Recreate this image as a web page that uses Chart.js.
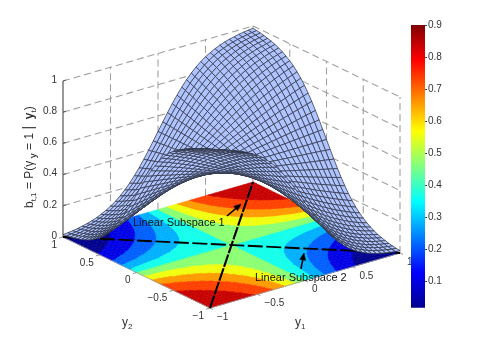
<!DOCTYPE html>
<html>
<head>
<meta charset="utf-8">
<title>Belief surface</title>
<script src="https://cdn.jsdelivr.net/npm/chart.js@4"></script>
<style>
  body { margin: 0; background: #fff; }
  canvas { position: absolute; }
</style>
</head>
<body>
<canvas id="surfaceChart" width="482" height="347" style="left:0;top:0"></canvas>
<canvas id="barChart" width="39" height="303" style="left:411px;top:15px"></canvas>
<script>
// Mesh coordinates, same for y1 and y2
const gridY = [-1,-0.95,-0.9,-0.85,-0.8,-0.75,-0.7,-0.65,-0.6,-0.55,-0.5,-0.45,-0.4,-0.35,-0.3,-0.25,-0.2,-0.15,-0.1,-0.05,0,
  0.05,0.1,0.15,0.2,0.25,0.3,0.35,0.4,0.45,0.5,0.55,0.6,0.65,0.7,0.75,0.8,0.85,0.9,0.95,1];

// Height of the surface in thousandths. Row = y1 from 0 to 1, column = y2 from -1 to 1
const upperRows = [
[500,500,500,500,500,500,500,500,500,500,500,500,500,500,500,500,500,500,500,500,500,500,500,500,500,500,500,500,500,500,500,500,500,500,500,500,500,500,500,500,500],
[448,450,453,456,458,461,463,466,469,471,474,476,479,482,484,487,490,492,495,497,500,503,505,508,510,513,516,518,521,524,526,529,531,534,537,539,542,544,547,550,552],
[397,402,407,412,417,422,427,432,437,443,448,453,458,463,469,474,479,484,490,495,500,505,510,516,521,526,531,537,542,547,552,557,563,568,573,578,583,588,593,598,603],
[348,355,362,369,377,384,392,399,407,414,422,430,437,445,453,461,469,476,484,492,500,508,516,524,531,539,547,555,563,570,578,586,593,601,608,616,623,631,638,645,652],
[302,311,320,329,338,348,357,367,377,387,397,407,417,427,437,448,458,469,479,490,500,510,521,531,542,552,563,573,583,593,603,613,623,633,643,652,662,671,680,689,698],
[260,270,280,291,302,313,324,336,348,360,372,384,397,409,422,435,448,461,474,487,500,513,526,539,552,565,578,591,603,616,628,640,652,664,676,687,698,709,720,730,740],
[221,232,243,255,268,280,293,306,320,334,348,362,377,392,407,422,437,453,469,484,500,516,531,547,563,578,593,608,623,638,652,666,680,694,707,720,732,745,757,768,779],
[187,199,210,223,236,249,264,278,293,309,324,341,357,374,392,409,427,445,463,482,500,518,537,555,573,591,608,626,643,659,676,691,707,722,736,751,764,777,790,801,813],
[157,169,181,194,207,221,236,251,268,284,302,320,338,357,377,397,417,437,458,479,500,521,542,563,583,603,623,643,662,680,698,716,732,749,764,779,793,806,819,831,843],
[131,143,154,168,181,195,210,227,243,262,280,300,320,341,362,384,407,430,453,476,500,524,547,570,593,616,638,659,680,700,720,738,757,773,790,805,819,832,846,857,869],
[109,120,131,144,157,172,187,204,221,240,260,280,302,324,348,372,397,422,448,474,500,526,552,578,603,628,652,676,698,720,740,760,779,796,813,828,843,856,869,880,891],
[91,100,111,123,136,151,166,182,200,219,240,262,284,309,334,360,387,414,443,471,500,529,557,586,613,640,666,691,716,738,760,781,800,818,834,849,864,877,889,900,909],
[75,84,94,105,118,131,147,163,181,200,221,243,268,293,320,348,377,407,437,469,500,531,563,593,623,652,680,707,732,757,779,800,819,837,853,869,882,895,906,916,925],
[61,70,79,90,101,114,129,145,163,182,204,227,251,278,306,336,367,399,432,466,500,534,568,601,633,664,694,722,749,773,796,818,837,855,871,886,899,910,921,930,939],
[50,58,66,76,87,99,113,129,147,166,187,210,236,264,293,324,357,392,427,463,500,537,573,608,643,676,707,736,764,790,813,834,853,871,887,901,913,924,934,942,950],
[41,48,56,64,75,86,99,114,131,151,172,195,221,249,280,313,348,384,422,461,500,539,578,616,652,687,720,751,779,805,828,849,869,886,901,914,925,936,944,952,959],
[34,40,46,54,64,75,87,101,118,136,157,181,207,236,268,302,338,377,417,458,500,542,583,623,662,698,732,764,793,819,843,864,882,899,913,925,936,946,954,960,966],
[27,33,39,46,54,64,76,90,105,123,144,168,194,223,255,291,329,369,412,456,500,544,588,631,671,709,745,777,806,832,856,877,895,910,924,936,946,954,961,967,973],
[22,27,32,39,46,56,66,79,94,111,131,154,181,210,243,280,320,362,407,453,500,547,593,638,680,720,757,790,819,846,869,889,906,921,934,944,954,961,968,973,978],
[18,22,27,33,40,48,58,70,84,100,120,143,169,199,232,270,311,355,402,450,500,550,598,645,689,730,768,801,831,857,880,900,916,930,942,952,960,967,973,978,982],
[15,18,22,27,34,41,50,61,75,91,109,131,157,187,221,260,302,348,397,448,500,552,603,652,698,740,779,813,843,869,891,909,925,939,950,959,966,973,978,982,985]
];
// The picture repeats itself through the centre, so the y1 < 0 half is the same rows turned round
const surfaceRows = upperRows.slice(1).reverse().map(r => [...r].reverse()).concat(upperRows);

const contourLevels = [100, 200, 300, 400, 500, 600, 700, 800, 900];
const bandColors = ['#00008f', '#0000e6', '#0060ff', '#00b0ff', '#14ffeb', '#8cff73', '#f0ff0f', '#ff9b00', '#ff4100', '#c80000'];

const y1Ticks = [-1, -0.5, 0, 0.5, 1];
const y2Ticks = [1, 0.5, 0, -0.5, -1];
const zTicks = [0, 0.2, 0.4, 0.6, 0.8, 1];
const barTicks = [0.1, 0.2, 0.3, 0.4, 0.5, 0.6, 0.7, 0.8, 0.9];
const barRange = [0.019, 0.9];

const jetStops = [[0, '#00008f'], [0.125, '#0000ff'], [0.375, '#00ffff'], [0.625, '#ffff00'], [0.875, '#ff0000'], [1, '#800000']];

// Floor position of the view, found by measuring the corners of the box
function project(y1, y2, z) {
    return { x: 231.5 + 95 * y1 - 73.5 * y2, y: 245 - 27.5 * y1 - 35.5 * y2 - 156 * z };
}

const fmt = v => String(v).replace('-', '\u2212');
const datasets = [];

function addLine(points, color, width, dash) {
    datasets.push({
        data: points, showLine: true, fill: false, tension: 0, pointRadius: 0,
        borderColor: color, borderWidth: width, borderDash: dash || [], clip: false
    });
}

function addShape(points, fillColor, lineColor, width) {
    datasets.push({
        data: points.concat([points[0]]), showLine: true, fill: 'shape', tension: 0, pointRadius: 0,
        backgroundColor: fillColor, borderColor: lineColor, borderWidth: width, clip: false
    });
}

// Back walls
const wallColor = '#a0a0a0';
const wallDash = [7, 4];
zTicks.forEach(z => {
    if (z > 0) {
        addLine([project(-1, 1, z), project(1, 1, z)], wallColor, 1.1, wallDash);
        addLine([project(1, 1, z), project(1, -1, z)], wallColor, 1.1, wallDash);
    }
});
[-0.5, 0, 0.5].forEach(t => {
    addLine([project(t, 1, 0), project(t, 1, 1)], wallColor, 1.1, wallDash);
    addLine([project(1, t, 0), project(1, t, 1)], wallColor, 1.1, wallDash);
});
addLine([project(1, 1, 0), project(1, 1, 1)], wallColor, 1.1, wallDash);
addLine([project(1, -1, 0), project(1, -1, 1)], wallColor, 1.1, wallDash);

// Cut one mesh cell to the part above (sign 1) or below (sign -1) a level
function clipLevel(poly, level, sign) {
    const out = [];
    poly.forEach((p, i) => {
        const q = poly[(i + 1) % poly.length];
        const pIn = sign * (p.v - level) >= 0;
        const qIn = sign * (q.v - level) >= 0;
        if (pIn) out.push(p);
        if (pIn !== qIn) {
            const t = (level - p.v) / (q.v - p.v);
            out.push({ a: p.a + t * (q.a - p.a), b: p.b + t * (q.b - p.b), v: level });
        }
    });
    return out;
}

// Filled contours on the floor
for (let i = 0; i < gridY.length - 1; i++) {
    for (let j = 0; j < gridY.length - 1; j++) {
        const cell = [[i, j], [i + 1, j], [i + 1, j + 1], [i, j + 1]].map(([r, c]) => ({ a: gridY[r], b: gridY[c], v: surfaceRows[r][c] }));
        bandColors.forEach((color, k) => {
            let poly = cell;
            if (k > 0) poly = clipLevel(poly, contourLevels[k - 1], 1);
            if (k < contourLevels.length && poly.length) poly = clipLevel(poly, contourLevels[k], -1);
            if (poly.length > 2) addShape(poly.map(p => project(p.a, p.b, 0)), color, color, 0.6);
        });
    }
}

// Axis lines and ticks
const axisColor = '#555555';
addLine([project(-1, 1, 0), project(-1, -1, 0), project(1, -1, 0)], '#999999', 0.8);
addLine([project(-1, 1, 0), project(-1, 1, 1)], axisColor, 1.2);
zTicks.forEach(z => {
    const p = project(-1, 1, z);
    addLine([p, { x: p.x + 3, y: p.y - 1 }], axisColor, 1);
});
y1Ticks.forEach(t => addLine([project(t, -1, 0), project(t, -1.04, 0)], '#777777', 0.8));
y2Ticks.forEach(t => addLine([project(-1, t, 0), project(-1.04, t, 0)], '#777777', 0.8));

// The two subspaces on the floor
addLine([project(-1, -1, 0), project(1, 1, 0)], '#000000', 2.1, [13, 1.5]);
addLine([project(-1, 1, 0), project(1, -1, 0)], '#000000', 1.9, [15, 3.5]);

// Surface, far cells first so near cells paint over them
const faceColor = '#b0c4ff';
const meshColor = '#2f3548';
for (let i = gridY.length - 2; i >= 0; i--) {
    for (let j = gridY.length - 2; j >= 0; j--) {
        const quad = [[i, j], [i + 1, j], [i + 1, j + 1], [i, j + 1]].map(([r, c]) => project(gridY[r], gridY[c], surfaceRows[r][c] / 1000));
        addShape(quad, faceColor, meshColor, 0.75);
    }
}

// Arrows next to the notes, in picture position
const noteArrows = [[227, 216, 241, 204], [301, 269, 304, 253]];
noteArrows.forEach(([x0, y0, x1, y1]) => {
    const len = Math.hypot(x1 - x0, y1 - y0), ux = (x1 - x0) / len, uy = (y1 - y0) / len;
    addLine([{ x: x0, y: y0 }, { x: x1 - ux * 4, y: y1 - uy * 4 }], '#000000', 1.5);
    addShape([{ x: x1, y: y1 },
        { x: x1 - ux * 7 - uy * 3, y: y1 - uy * 7 + ux * 3 },
        { x: x1 - ux * 7 + uy * 3, y: y1 - uy * 7 - ux * 3 }], '#000000', '#000000', 0.5);
});

// Chart.js paints the first dataset last, the list above is back to front
datasets.reverse();

const textColor = '#333333';
const mainFont = '"Liberation Sans", Arial, sans-serif';

function runs(ctx, parts, x, y) {
    parts.forEach(([text, size, shift, bold]) => {
        ctx.font = (bold ? 'bold ' : '') + size + 'px ' + mainFont;
        ctx.fillText(text, x, y + shift);
        x += ctx.measureText(text).width;
    });
}

const labelPlugin = {
    id: 'labelPlugin',
    afterDraw(chart) {
        const { ctx, scales: { x: sx, y: sy } } = chart;
        const px = p => ({ x: sx.getPixelForValue(p.x), y: sy.getPixelForValue(p.y) });
        ctx.save();
        ctx.fillStyle = textColor;
        ctx.font = '10px ' + mainFont;
        ctx.textBaseline = 'middle';

        ctx.textAlign = 'right';
        zTicks.forEach(z => {
            const p = px(project(-1, 1, z));
            ctx.fillText(fmt(z), p.x - 6, p.y - 1);
        });
        y2Ticks.forEach(t => {
            const p = px(project(-1, t, 0));
            ctx.fillText(fmt(t), p.x - 6, p.y + 8);
        });
        ctx.textAlign = 'left';
        y1Ticks.forEach(t => {
            const p = px(project(t, -1, 0));
            ctx.fillText(fmt(t), p.x + 7, p.y + 9);
        });

        ctx.textBaseline = 'alphabetic';
        runs(ctx, [['y', 12, 0], ['2', 8, 3]], 122, 326);
        runs(ctx, [['y', 12, 0], ['1', 8, 3]], 295, 326);

        ctx.fillStyle = '#111111';
        ctx.font = '11px ' + mainFont;
        ctx.fillText('Linear Subspace 1', 133, 226);
        ctx.fillText('Linear Subspace 2', 255, 281);

        ctx.fillStyle = textColor;
        ctx.translate(33, 208);
        ctx.rotate(-Math.PI / 2);
        runs(ctx, [['b', 12, 0], ['t,1', 8, 3], [' = P(\u03b3', 12, 0], [' y', 9, 3, true], [' = 1 ', 12, 0], ['|', 14, 0], ['  ', 12, 0], ['y', 12, 0, true], ['t', 8, 3], [')', 12, 0]], 0, 0);
        ctx.restore();
    }
};

new Chart(document.getElementById('surfaceChart'), {
    type: 'scatter',
    data: { datasets },
    options: {
        responsive: false,
        animation: false,
        events: [],
        layout: { padding: 0 },
        plugins: { legend: { display: false }, tooltip: { enabled: false }, filler: { drawTime: 'beforeDatasetDraw' } },
        scales: {
            x: { type: 'linear', min: 0, max: 482, display: false },
            y: { type: 'linear', min: 0, max: 347, reverse: true, display: false }
        }
    },
    plugins: [labelPlugin]
});

// Colour bar
function jetGradient(context) {
    const { ctx, chartArea } = context.chart;
    if (!chartArea) return '#000080';
    const g = ctx.createLinearGradient(0, chartArea.bottom, 0, chartArea.top);
    jetStops.forEach(([pos, color]) => g.addColorStop(pos, color));
    return g;
}

new Chart(document.getElementById('barChart'), {
    type: 'bar',
    data: { labels: [''], datasets: [{ data: [barRange], backgroundColor: jetGradient, barPercentage: 1, categoryPercentage: 1 }] },
    options: {
        responsive: false,
        animation: false,
        events: [],
        layout: { padding: { top: 10, bottom: 10.3, left: 0, right: 0 } },
        plugins: { legend: { display: false }, tooltip: { enabled: false } },
        scales: {
            x: { display: false },
            y: {
                position: 'right',
                min: barRange[0],
                max: barRange[1],
                afterBuildTicks: scale => { scale.ticks = barTicks.map(value => ({ value })); },
                afterFit: scale => { scale.width = 25; },
                border: { display: false },
                grid: { drawOnChartArea: false, drawTicks: true, tickLength: 2, color: '#444444' },
                ticks: { color: textColor, padding: 1, autoSkip: false, font: { family: mainFont, size: 10 }, callback: v => String(v) }
            }
        }
    }
});
</script>
</body>
</html>
